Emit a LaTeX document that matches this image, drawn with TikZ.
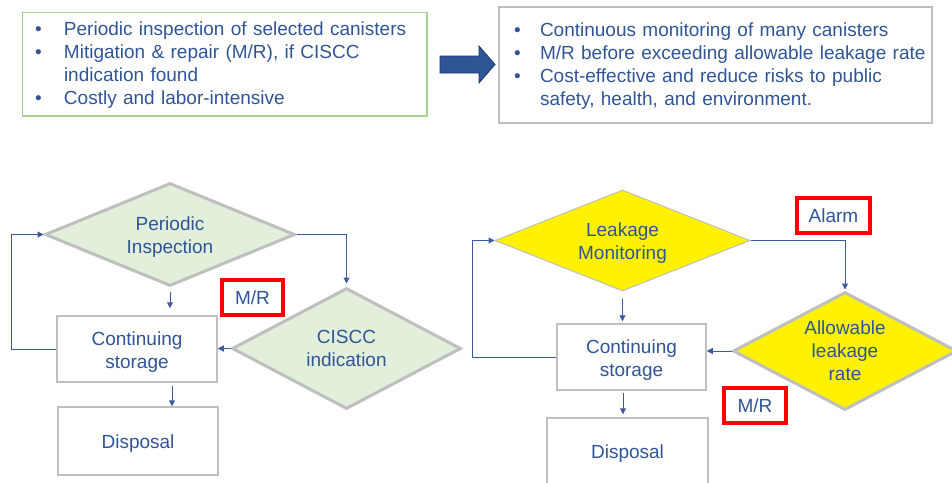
\documentclass[tikz,border=0pt]{standalone}
\usepackage{fontspec}
\setmainfont{Liberation Sans}
\usetikzlibrary{shapes.geometric,arrows.meta}
\definecolor{txtblue}{RGB}{47,85,151}
\definecolor{lnblue}{RGB}{60,90,160}
\definecolor{grayb}{RGB}{191,191,191}
\definecolor{greenfill}{RGB}{226,239,218}
\definecolor{greenb}{RGB}{169,209,142}
\definecolor{arrfill}{RGB}{47,85,151}
\definecolor{arrdraw}{RGB}{32,56,100}
\newcommand{\lowtxt}[2][3pt]{\raisebox{-#1}[\height][\depth]{\begin{tabular}{@{}c@{}}#2\end{tabular}}}
\begin{document}
\begin{tikzpicture}[x=1pt,y=-1pt,
  every node/.style={font=\fontsize{19}{23}\selectfont, text=txtblue},
  dia/.style={diamond, draw=grayb, line width=3pt, fill=greenfill, inner sep=0pt, align=center},
  ydia/.style={diamond, draw=grayb, line width=1pt, fill=yellow, inner sep=0pt, align=center},
  gbox/.style={rectangle, draw=grayb, line width=1.5pt, fill=white, align=center, inner sep=0pt},
  redbox/.style={rectangle, draw=red, line width=3.5pt, fill=white, inner sep=0pt},
  conn/.style={draw=lnblue, line width=1pt, -{Triangle[length=6pt,width=6pt]}}
]
\useasboundingbox (0,0) rectangle (952,482);

% top text boxes
\node[rectangle, draw=greenb, line width=1.3pt, inner xsep=12.3pt, inner ysep=0pt,
      text width=379.7pt, minimum height=103.3pt, align=left] (tl) at (224.85,64.35)
 {\raisebox{-1.5pt}[\height][\depth]{\begin{tabular}{@{}p{29pt}@{}l@{}}
  \textbullet & Periodic inspection of selected canisters\\
  \textbullet & Mitigation \& repair (M/R), if CISCC\\
              & indication found\\
  \textbullet & Costly and labor-intensive
  \end{tabular}}};
\node[rectangle, draw=grayb, line width=1.8pt, inner xsep=15pt, inner ysep=0pt,
      text width=403pt, minimum height=116pt, align=left] (tr) at (715.5,65)
 {\raisebox{-1.5pt}[\height][\depth]{\begin{tabular}{@{}p{26pt}@{}l@{}}
  \textbullet & Continuous monitoring of many canisters\\
  \textbullet & M/R before exceeding allowable leakage rate\\
  \textbullet & Cost-effective and reduce risks to public\\
              & safety, health, and environment.
  \end{tabular}}};

% big arrow
\draw[fill=arrfill, draw=arrdraw, line width=0.8pt]
  (440,56) -- (479,56) -- (479,46) -- (495,64.5) -- (479,83) -- (479,73) -- (440,73) -- cycle;

% left flowchart
\node[dia, minimum width=250pt, minimum height=103pt, aspect=2.43] (PI) at (170,234.5) {\lowtxt{Periodic\\Inspection}};
\node[gbox, minimum width=160pt, minimum height=66pt] (CS1) at (137,349) {\lowtxt{Continuing\\storage}};
\node[gbox, minimum width=160pt, minimum height=68pt] (D1) at (138,441) {\lowtxt{Disposal}};
\node[dia, minimum width=229pt, minimum height=121pt, aspect=1.89] (CI) at (346.5,348.5) {CISCC\\indication};
\node[redbox, minimum width=61pt, minimum height=35pt] (MR1) at (252.5,297.5) {M/R};

\draw[conn, shorten <=4pt, shorten >=7pt] (PI.south) -- (PI.south |- CS1.north);
\draw[conn, shorten >=3pt] (PI.east) -| (CI.north);
\draw[conn] (CI.west) -- (CI.west -| CS1.east);
\draw[conn] (CS1.west) -- ++(-45,0) |- (PI.west);
\coordinate (c1) at ([xshift=35pt]CS1.south);
\draw[conn, shorten <=3pt] (c1) -- (c1 |- D1.north);

% right flowchart
\node[ydia, minimum width=255pt, minimum height=101pt, aspect=2.52] (LM) at (622.5,240.5) {\lowtxt{Leakage\\Monitoring}};
\node[gbox, minimum width=149pt, minimum height=66pt] (CS2) at (631.5,357) {\lowtxt{Continuing\\storage}};
\node[gbox, minimum width=161pt, minimum height=66pt] (D2) at (627.5,451) {\lowtxt{Disposal}};
\node[dia, fill=yellow, minimum width=224pt, minimum height=118pt, aspect=1.9] (AL) at (845,351) {Allowable\\leakage\\rate};
\node[redbox, minimum width=73pt, minimum height=35pt] (AR) at (833.5,215.5) {Alarm};
\node[redbox, minimum width=62pt, minimum height=35pt] (MR2) at (755,405.5) {M/R};

\draw[conn, shorten <=7pt, shorten >=2pt] (LM.south) -- (LM.south |- CS2.north);
\draw[conn, shorten >=1pt] (LM.east) -| (AL.north);
\draw[conn] (AL.west) -- (AL.west -| CS2.east);
\draw[conn] (CS2.west) -- ++(-84,0) |- (LM.west);
\coordinate (c2) at ([xshift=-8.5pt]CS2.south);
\draw[conn, shorten <=2pt, shorten >=3pt] (c2) -- (c2 |- D2.north);
\end{tikzpicture}
\end{document}
